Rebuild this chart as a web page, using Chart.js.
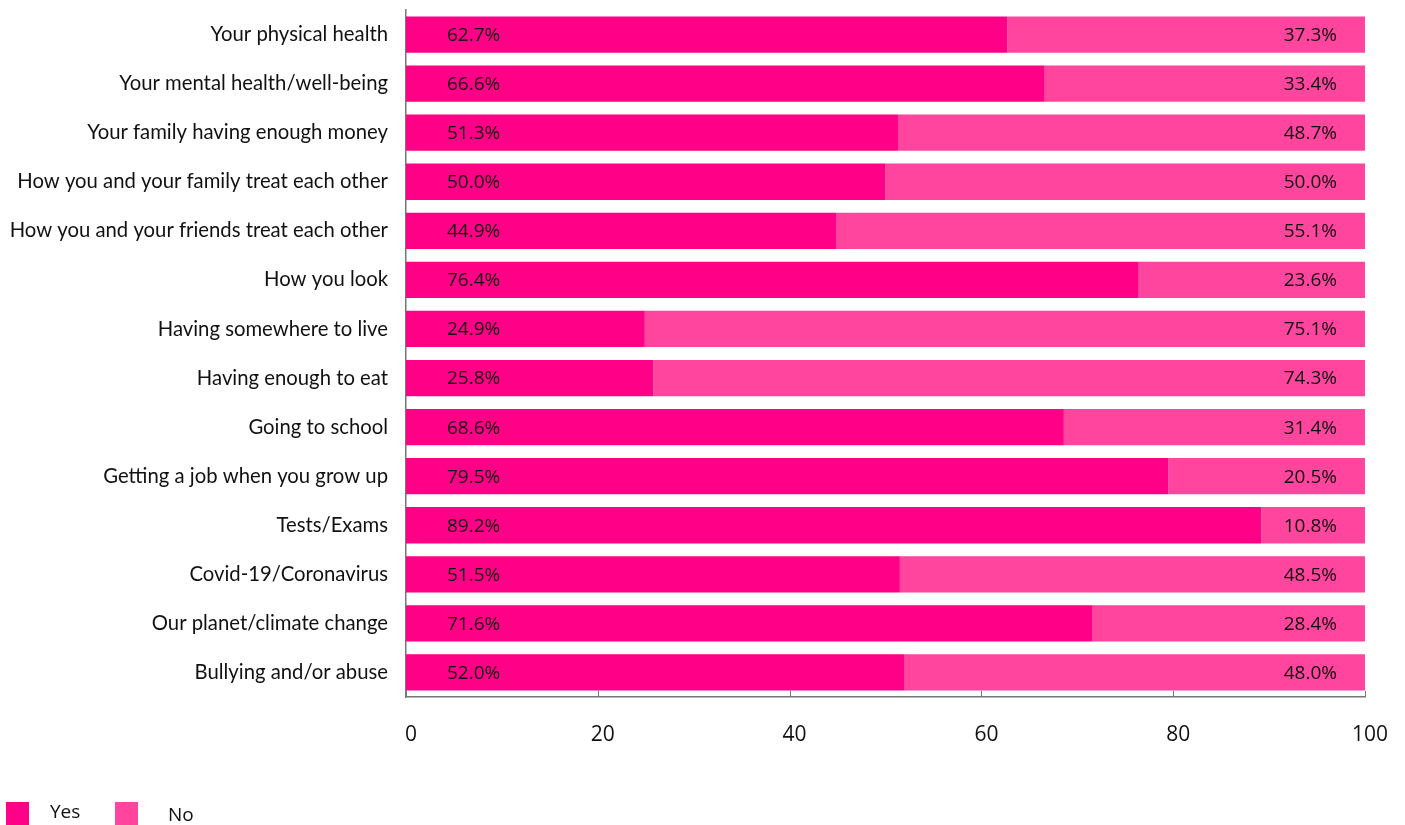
<!DOCTYPE html>
<html>
<head>
<meta charset="utf-8">
<script src="https://cdn.jsdelivr.net/npm/chart.js@4/dist/chart.umd.min.js"></script>
<style>
  html, body { margin: 0; padding: 0; background: #fff; }
  #wrap { position: relative; width: 1405px; height: 825px; overflow: hidden; }
  #legend { position: absolute; left: 0; top: 0; font-family: "Open Sans", sans-serif; font-size: 19px; color: #111; }
  .swatch { position: absolute; width: 23px; height: 23px; }
  .lbl { position: absolute; line-height: 23px; }
</style>
</head>
<body>
<div id="wrap">
  <canvas id="chart" width="1405" height="825"></canvas>
  <div id="legend"></div>
</div>
<script>
const categories = [
    "Your physical health",
    "Your mental health/well-being",
    "Your family having enough money",
    "How you and your family treat each other",
    "How you and your friends treat each other",
    "How you look",
    "Having somewhere to live",
    "Having enough to eat",
    "Going to school",
    "Getting a job when you grow up",
    "Tests/Exams",
    "Covid-19/Coronavirus",
    "Our planet/climate change",
    "Bullying and/or abuse"
];
const yesValues = [62.7, 66.6, 51.3, 50.0, 44.9, 76.4, 24.9, 25.8, 68.6, 79.5, 89.2, 51.5, 71.6, 52.0];
const noValues  = [37.3, 33.4, 48.7, 50.0, 55.1, 23.6, 75.1, 74.3, 31.4, 20.5, 10.8, 48.5, 28.4, 48.0];
const xTicks = [0, 20, 40, 60, 80, 100];

const YES_COLOR = "#ff0087";
const NO_COLOR = "#ff459d";
const AXIS_COLOR = "#777777";

// percentage text inside each bar: Yes from the left, No from the right
const barLabels = {
    id: "barLabels",
    afterDatasetsDraw(chart) {
        const ctx = chart.ctx;
        ctx.save();
        ctx.font = '19px "Open Sans", sans-serif';
        ctx.fillStyle = "#111";
        ctx.textBaseline = "middle";
        chart.data.datasets.forEach((ds, di) => {
            const meta = chart.getDatasetMeta(di);
            meta.data.forEach((bar, i) => {
                const txt = ds.data[i].toFixed(1) + "%";
                if (di === 0) {
                    ctx.textAlign = "left";
                    ctx.fillText(txt, bar.base + 41, bar.y + 1);
                } else {
                    ctx.textAlign = "right";
                    ctx.fillText(txt, Math.min(bar.x, chart.chartArea.right) - 28, bar.y + 1);
                }
            });
        });
        ctx.restore();
    }
};

// short tick marks pointing up from the bottom axis
const innerTicks = {
    id: "innerTicks",
    afterDraw(chart) {
        const ctx = chart.ctx;
        const x = chart.scales.x;
        const bottom = chart.chartArea.bottom;
        ctx.save();
        ctx.strokeStyle = AXIS_COLOR;
        ctx.lineWidth = 1;
        xTicks.forEach((v) => {
            const px = Math.round(x.getPixelForValue(v)) + 0.5;
            ctx.beginPath();
            ctx.moveTo(px, bottom);
            ctx.lineTo(px, bottom - 6);
            ctx.stroke();
        });
        ctx.restore();
    }
};

const chart = new Chart(document.getElementById("chart"), {
    type: "bar",
    data: {
        labels: categories,
        datasets: [
            { label: "Yes", data: yesValues, backgroundColor: YES_COLOR, barPercentage: 0.74, categoryPercentage: 1.0 },
            { label: "No", data: noValues, backgroundColor: NO_COLOR, barPercentage: 0.74, categoryPercentage: 1.0 }
        ]
    },
    options: {
        indexAxis: "y",
        responsive: false,
        animation: false,
        layout: { padding: { top: 10, right: 40, left: 0, bottom: 0 } },
        plugins: { legend: { display: false }, tooltip: { enabled: false } },
        scales: {
            x: {
                stacked: true,
                min: 0,
                max: 100,
                afterBuildTicks(scale) { scale.ticks = xTicks.map((v) => ({ value: v })); },
                afterFit(scale) {
                    scale.height = 128;
                    scale.paddingLeft = 0;
                    scale.paddingRight = 0;
                },
                grid: { display: false, drawTicks: false },
                border: { display: true, color: AXIS_COLOR, width: 1.5 },
                ticks: { padding: 25, labelOffset: 5, color: "#111", font: { family: "Open Sans", size: 21 } }
            },
            y: {
                stacked: true,
                afterFit(scale) {
                    scale.width = 406;
                    scale.paddingTop = 0;
                    scale.paddingBottom = 0;
                },
                grid: { display: false, drawTicks: false },
                border: { display: true, color: AXIS_COLOR, width: 1.5 },
                ticks: { padding: 18, color: "#111", font: { family: "Lato", size: 20.3 } }
            }
        }
    },
    plugins: [barLabels, innerTicks]
});

// legend below the chart, built from the datasets
const legend = document.getElementById("legend");
const legendPos = [{ box: 6, text: 50, top: 802 }, { box: 115, text: 168, top: 802 }];
chart.data.datasets.forEach((ds, i) => {
    const p = legendPos[i];
    const sw = document.createElement("div");
    sw.className = "swatch";
    sw.style.left = p.box + "px";
    sw.style.top = p.top + "px";
    sw.style.background = ds.backgroundColor;
    const t = document.createElement("div");
    t.className = "lbl";
    t.style.left = p.text + "px";
    t.style.top = (p.top - 2 + i * 3) + "px";
    t.textContent = ds.label;
    legend.appendChild(sw);
    legend.appendChild(t);
});
</script>
</body>
</html>
